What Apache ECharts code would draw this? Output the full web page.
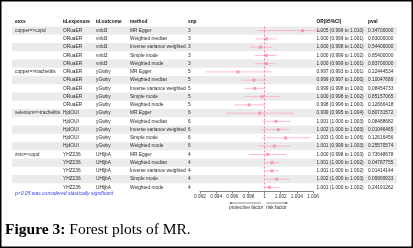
<!DOCTYPE html>
<html>
<head>
<meta charset="utf-8">
<title>Forest plots of MR</title>
<script src="https://cdn.jsdelivr.net/npm/echarts@6/dist/echarts.min.js"></script>
<style>
  html, body { margin: 0; padding: 0; background: #fff; }
  #main { width: 413px; height: 248px; }
</style>
</head>
<body>
<div id="main"></div>
<script type="text/javascript">
// table columns
var exxs = ['copper=>copd', '', '', '', '', 'copper=>trachelitis', '', '', '', '',
            'selenium=>trachelitis', '', '', '', '', 'zinc=>copd', '', '', '', ''];
var idExposure = ['ORuaER', 'ORuaER', 'ORuaER', 'ORuaER', 'ORuaER', 'ORuaER', 'ORuaER', 'ORuaER', 'ORuaER', 'ORuaER',
                  'HjdOUI', 'HjdOUI', 'HjdOUI', 'HjdOUI', 'HjdOUI', 'YHZ236', 'YHZ236', 'YHZ236', 'YHZ236', 'YHZ236'];
var idOutcome = ['vnld3', 'vnld3', 'vnld3', 'vnld3', 'vnld3', 'yGwby', 'yGwby', 'yGwby', 'yGwby', 'yGwby',
                 'yGwby', 'yGwby', 'yGwby', 'yGwby', 'yGwby', 'UHljbA', 'UHljbA', 'UHljbA', 'UHljbA', 'UHljbA'];
var methods = ['MR Egger', 'Weighted median', 'Inverse variance weighted', 'Simple mode', 'Weighted mode',
               'MR Egger', 'Weighted median', 'Inverse variance weighted', 'Simple mode', 'Weighted mode',
               'MR Egger', 'Weighted median', 'Inverse variance weighted', 'Simple mode', 'Weighted mode',
               'MR Egger', 'Weighted median', 'Inverse variance weighted', 'Simple mode', 'Weighted mode'];
var snp = [3, 3, 3, 3, 3, 5, 5, 5, 5, 5, 6, 6, 6, 6, 6, 4, 4, 4, 4, 4];
var orText = ['1.005 (0.999 to 1.010)', '1.000 (0.999 to 1.001)', '1.000 (0.998 to 1.001)', '1.000 (0.999 to 1.002)', '1.000 (0.999 to 1.001)',
              '0.997 (0.993 to 1.001)', '0.999 (0.997 to 1.000)', '0.999 (0.998 to 1.000)', '1.000 (0.998 to 1.002)', '0.998 (0.996 to 1.000)',
              '0.999 (0.995 to 1.004)', '1.001 (1.000 to 1.003)', '1.002 (1.000 to 1.003)', '1.003 (1.000 to 1.006)', '1.001 (0.999 to 1.003)',
              '1.000 (0.998 to 1.003)', '1.001 (1.000 to 1.002)', '1.001 (1.000 to 1.002)', '1.002 (1.000 to 1.003)', '1.001 (1.000 to 1.002)'];
var pval = ['0.34700000', '0.83000000', '0.54400000', '0.85400000', '0.83700000',
            '0.22444534', '0.10047689', '0.08454733', '0.85157065', '0.12666418',
            '0.80731572', '0.08488682', '0.01046465', '0.12616456', '0.25570574',
            '0.73648678', '0.04787755', '0.01414144', '0.09969933', '0.24191262'];

// forest values (OR and 95% CI)
var est = [1.0047, 1.0002, 0.9995, 1.0002, 1.0002, 0.9967, 0.9987, 0.9988, 0.9997, 0.9981,
           0.9994, 1.0014, 1.0017, 1.0026, 1.0012, 1.0004, 1.0009, 1.0009, 1.0015, 1.0006];
var lo  = [0.9991, 0.9989, 0.9982, 0.9988, 0.9988, 0.9927, 0.9971, 0.9975, 0.9975, 0.9963,
           0.9953, 0.9997, 0.9996, 0.9997, 0.9992, 0.9981, 1.0000, 1.0000, 1.0002, 0.9999];
var hi  = [1.0100, 1.0015, 1.0010, 1.0015, 1.0013, 1.0009, 1.0002, 1.0001, 1.0019, 1.0001,
           1.0036, 1.0032, 1.0031, 1.0056, 1.0032, 1.0027, 1.0018, 1.0018, 1.0031, 1.0019];
var xTicks = [0.992, 1.006, 0.002];

var rowIdx = [];
for (var i = 0; i < est.length; i++) rowIdx.push('r' + i);

var pink = '#f7a9bc';
var pinkDot = '#f28ca8';
var clampMax = 1.007;

var myChart = echarts.init(document.getElementById('main'));

var option = {
    animation: false,
    grid: { left: 200, right: 100, top: 26.5, bottom: 56.5 },
    xAxis: {
        type: 'value',
        min: xTicks[0],
        max: xTicks[1],
        interval: xTicks[2],
        splitLine: { show: false },
        axisLine: { show: true, lineStyle: { color: '#666', width: 0.8 } },
        axisTick: { show: true, length: 2, lineStyle: { color: '#666', width: 0.8 } },
        axisLabel: {
            fontSize: 4.8, color: '#333', margin: 3, fontFamily: 'Liberation Sans',
            formatter: function (v) { return String(parseFloat(v.toFixed(3))); }
        }
    },
    yAxis: {
        type: 'category',
        data: rowIdx,
        inverse: true,
        show: false
    },
    series: [
        {
            type: 'custom',
            clip: false,
            z: 3,
            renderItem: function (params, api) {
                var r = api.value(0);
                var a = api.value(1);
                var b = Math.min(api.value(2), clampMax);
                var p1 = api.coord([a, r]);
                var p2 = api.coord([b, r]);
                var children = [{
                    type: 'line',
                    shape: { x1: p1[0], y1: p1[1], x2: p2[0], y2: p2[1] },
                    style: { stroke: pink, lineWidth: 0.8 }
                }];
                if (api.value(2) > clampMax) {
                    children.push({
                        type: 'polygon',
                        shape: { points: [[p2[0] + 1, p2[1]], [p2[0] - 2, p2[1] - 1.5], [p2[0] - 2, p2[1] + 1.5]] },
                        style: { fill: pink }
                    });
                }
                return { type: 'group', children: children };
            },
            encode: { x: [1, 2], y: 0 },
            data: est.map(function (v, i) { return [i, lo[i], hi[i]]; })
        },
        {
            type: 'scatter',
            symbol: 'rect',
            symbolSize: 3,
            z: 4,
            itemStyle: { color: pinkDot },
            data: est.map(function (v, i) { return [v, i]; }),
            markLine: {
                silent: true,
                symbol: 'none',
                label: { show: false },
                lineStyle: { color: '#ee6c8c', type: [2, 2], width: 0.8 },
                data: [{ xAxis: 1 }]
            }
        }
    ]
};
myChart.setOption(option);

// table, stripes and annotations
var cols = [
    { x: 15, head: 'exxs', vals: exxs },
    { x: 63, head: 'id.exposure', vals: idExposure },
    { x: 96, head: 'id.outcome', vals: idOutcome },
    { x: 130, head: 'method', vals: methods },
    { x: 188, head: 'snp', vals: snp },
    { x: 316.5, head: 'OR(95%CI)', vals: orText },
    { x: 368, head: 'pval', vals: pval }
];
var font = '4.8px "Liberation Sans", Arial, sans-serif';
var g = [];
var rowH = myChart.convertToPixel({ gridIndex: 0 }, [1, 1])[1] - myChart.convertToPixel({ gridIndex: 0 }, [1, 0])[1];
var y0 = myChart.convertToPixel({ gridIndex: 0 }, [1, 0])[1];
for (var i = 0; i < est.length; i++) {
    var y = myChart.convertToPixel({ gridIndex: 0 }, [1, i])[1];
    if (i % 2 === 0) {
        g.push({ type: 'rect', z: -10, silent: true,
            shape: { x: 12, y: y - rowH / 2, width: 385, height: rowH },
            style: { fill: '#ebebeb' } });
    }
    cols.forEach(function (c) {
        g.push({ type: 'text', z: 10, silent: true,
            style: { text: String(c.vals[i]), x: c.x, y: y, font: font, fill: '#2a2a2a', verticalAlign: 'middle' } });
    });
}
cols.forEach(function (c) {
    g.push({ type: 'text', z: 10, silent: true,
        style: { text: c.head, x: c.x, y: y0 - rowH - 0.5, font: 'bold ' + font, fill: '#111', verticalAlign: 'middle' } });
});

// footnote
var lastY = myChart.convertToPixel({ gridIndex: 0 }, [1, est.length - 1])[1];
g.push({ type: 'text', silent: true,
    style: { text: 'p<0.05 was considered stastically significant', x: 15, y: lastY + 6, font: 'italic 5px "Liberation Sans", Arial, sans-serif', fill: '#3b3bf0', verticalAlign: 'middle' } });

// protective / risk arrows
var x1 = myChart.convertToPixel({ gridIndex: 0 }, [1, 0])[0];
var ay = 203;
g.push({ type: 'line', silent: true, shape: { x1: x1 - 3.5, y1: ay, x2: x1 - 34, y2: ay }, style: { stroke: '#444', lineWidth: 0.6 } });
g.push({ type: 'polygon', silent: true, shape: { points: [[x1 - 35.5, ay], [x1 - 33, ay - 1], [x1 - 33, ay + 1]] }, style: { fill: '#444' } });
g.push({ type: 'line', silent: true, shape: { x1: x1 + 1.7, y1: ay, x2: x1 + 22, y2: ay }, style: { stroke: '#444', lineWidth: 0.6 } });
g.push({ type: 'polygon', silent: true, shape: { points: [[x1 + 23.5, ay], [x1 + 21, ay - 1], [x1 + 21, ay + 1]] }, style: { fill: '#444' } });
g.push({ type: 'text', silent: true,
    style: { text: 'protective factor', x: x1 - 35.5, y: ay + 4.7, font: font, fill: '#333', align: 'left', verticalAlign: 'middle' } });
g.push({ type: 'text', silent: true,
    style: { text: 'risk factor', x: x1 + 1.5, y: ay + 4.7, font: font, fill: '#333', align: 'left', verticalAlign: 'middle' } });

// caption
g.push({ type: 'text', silent: true,
    style: { text: '{b|Figure 3:} Forest plots of MR.', x: 5, y: 229.5, verticalAlign: 'middle',
        font: '15.5px "Liberation Serif", serif', fill: '#000',
        rich: { b: { fontWeight: 'bold', fontSize: 15.5, fontFamily: 'Liberation Serif' } } } });

// frame
g.push({ type: 'rect', silent: true, z: 20,
    shape: { x: 0.75, y: 0.75, width: 411.5, height: 246.5 },
    style: { fill: 'none', stroke: '#000', lineWidth: 1.5 } });

myChart.setOption({ graphic: g });
</script>
</body>
</html>
